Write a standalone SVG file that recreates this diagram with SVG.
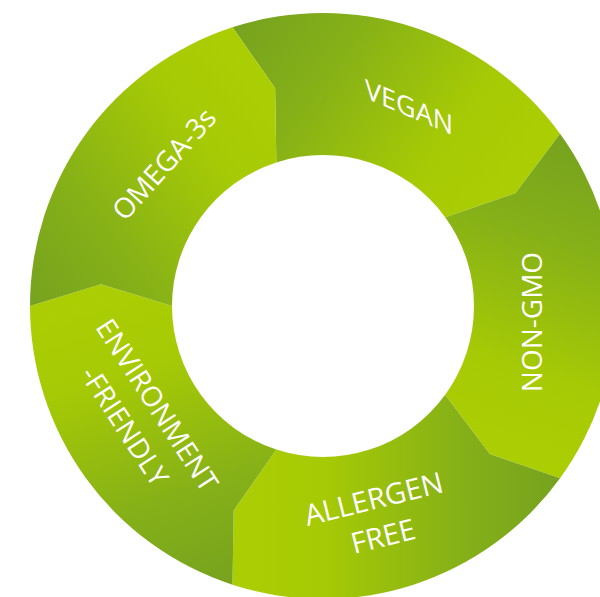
<svg xmlns="http://www.w3.org/2000/svg" width="600" height="597" viewBox="0 0 600 597">
  <defs>
    <linearGradient id="segGrad" gradientUnits="userSpaceOnUse" x1="-225.4" y1="-73.2" x2="86.2" y2="28.0">
      <stop offset="0" stop-color="#76A21F"/>
      <stop offset="0.3" stop-color="#85B018"/>
      <stop offset="0.72" stop-color="#A6CA05"/>
      <stop offset="1" stop-color="#ABCE03"/>
    </linearGradient>
    <path id="seg" d="M -172.22,-237.04 A 293 293 0 0 1 172.22,-237.04 L 148.06,-166.76 L 88.75,-122.16 A 151 151 0 0 0 -88.75,-122.16 L -112.84,-192.34 Z"/>
  </defs>
  <style>
    .seg { fill: url(#segGrad); }
    .lbl { font-family: "Open Sans", "Liberation Sans", sans-serif; font-size: 28px; fill: #ffffff; text-anchor: middle; }
  </style>
  <rect width="600" height="597" fill="#ffffff"/>
  <g id="connectors"/>
  <g id="node-vegan">
    <use href="#seg" class="seg" transform="translate(323,306) rotate(18)"/>
    <text class="lbl" style="font-size:27px" transform="translate(409,107) skewY(23)" x="0" y="9.6">VEGAN</text>
  </g>
  <g id="node-nongmo">
    <use href="#seg" class="seg" transform="translate(323,306) rotate(90)"/>
    <text class="lbl" transform="translate(532,322) rotate(-90)" x="0" y="10">NON-GMO</text>
  </g>
  <g id="node-allergen">
    <use href="#seg" class="seg" transform="translate(323,306) rotate(162)"/>
    <text class="lbl" style="font-size:29px" transform="translate(378.3,517.5) rotate(-14)" x="0" y="-8.9">ALLERGEN<tspan x="0" dy="38.5">FREE</tspan></text>
  </g>
  <g id="node-environment">
    <use href="#seg" class="seg" transform="translate(323,306) rotate(234)"/>
    <text class="lbl" transform="translate(141,415.4) rotate(57)" x="0" y="-9.3">ENVIRONMENT<tspan x="0" dy="38.6">-FRIENDLY</tspan></text>
  </g>
  <g id="node-omega">
    <use href="#seg" class="seg" transform="translate(323,306) rotate(306)"/>
    <text class="lbl" transform="translate(164,164) rotate(-48)" x="0" y="10">OMEGA-3s</text>
  </g>
</svg>
